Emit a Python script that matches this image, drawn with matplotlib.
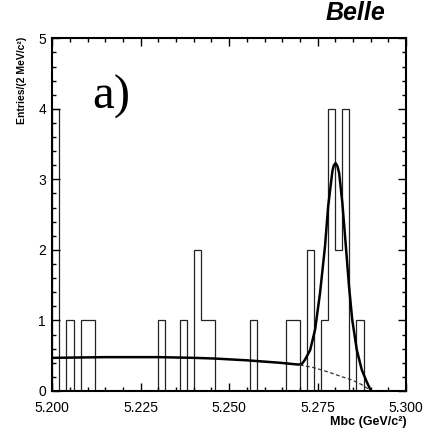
import matplotlib
matplotlib.use('Agg')
import matplotlib.pyplot as plt
import numpy as np
from matplotlib.ticker import MultipleLocator, FixedLocator

# ---- data ----
x_lo, x_hi = 5.200, 5.300
counts = [4, 0, 1, 0, 1, 1, 0, 0, 0, 0,
          0, 0, 0, 0, 0, 1, 0, 0, 1, 0,
          2, 1, 1, 0, 0, 0, 0, 0, 1, 0,
          0, 0, 0, 1, 1, 0, 2, 0, 1, 4,
          2, 4, 0, 1, 0, 0, 0, 0, 0, 0]

fit_x = [5.200, 5.215, 5.230, 5.240, 5.246, 5.255, 5.2644, 5.2695, 5.2705,
         5.2714, 5.2729, 5.2743, 5.2757, 5.2771, 5.2780, 5.2792, 5.2796,
         5.2801, 5.2806, 5.2811, 5.2820, 5.2830, 5.2839, 5.2848, 5.2861,
         5.2875, 5.2889, 5.2901]
fit_y = [0.47, 0.48, 0.48, 0.47, 0.46, 0.435, 0.40, 0.375, 0.38,
         0.44, 0.58, 0.87, 1.39, 2.05, 2.62, 3.12, 3.20,
         3.23, 3.19, 3.09, 2.67, 2.05, 1.48, 1.01, 0.58,
         0.30, 0.13, 0.0]

bg_x = [5.2700, 5.2740, 5.2780, 5.2820, 5.2850, 5.2875, 5.2893, 5.2900]
bg_y = [0.37, 0.33, 0.27, 0.20, 0.15, 0.09, 0.03, 0.0]

xtick_vals = [5.200, 5.225, 5.250, 5.275, 5.300]
xtick_labels = ['5.200', '5.225', '5.250', '5.275', '5.300']
ytick_vals = [0, 1, 2, 3, 4, 5]

# ---- plot ----
plt.rcParams['font.family'] = ['Liberation Sans', 'DejaVu Sans']
fig = plt.figure(figsize=(4.23, 4.33), dpi=100)
ax = fig.add_axes([0.1236, 0.0970, 0.8362, 0.8145])

edges = np.linspace(x_lo, x_hi, len(counts) + 1)
ax.stairs(counts, edges, baseline=0, color='#222222', linewidth=0.9)
ax.plot(fit_x, fit_y, color='black', linewidth=1.8, solid_capstyle='round')
ax.plot(bg_x, bg_y, color='#333333', linewidth=0.9, linestyle=(0, (3, 2)))

ax.set_xlim(x_lo, x_hi)
ax.set_ylim(0, 5)
ax.xaxis.set_major_locator(FixedLocator(xtick_vals))
ax.set_xticklabels(xtick_labels)
ax.xaxis.set_minor_locator(MultipleLocator(0.005))
ax.yaxis.set_major_locator(FixedLocator(ytick_vals))
ax.yaxis.set_minor_locator(MultipleLocator(0.2))
ax.tick_params(which='both', direction='in', top=True, right=True,
               labelsize=10, width=1.0)
ax.tick_params(which='major', length=5.5)
ax.tick_params(which='minor', length=3)
ax.tick_params(axis='x', which='major', pad=7.5)
ax.tick_params(axis='y', which='major', pad=4.5)
for s in ax.spines.values():
    s.set_linewidth(1.5)

fig.text(406.5 / 423, 1 - 422.5 / 433, 'Mbc (GeV/c²)', ha='right', va='center',
         fontsize=9, fontweight='bold')
fig.text(22 / 423, 1 - 37 / 433, 'Entries/(2 MeV/c²)', ha='center', va='top',
         rotation=90, fontsize=7.5, fontweight='bold')
fig.text(385 / 423, 1 - 20 / 433, 'Belle', ha='right', va='baseline',
         fontsize=18, fontweight='bold', fontstyle='italic')
ax.text(5.2113, 4.0, 'a)', fontsize=35, family='Liberation Serif',
        ha='left', va='baseline')

fig.savefig('out.png', dpi=100)
